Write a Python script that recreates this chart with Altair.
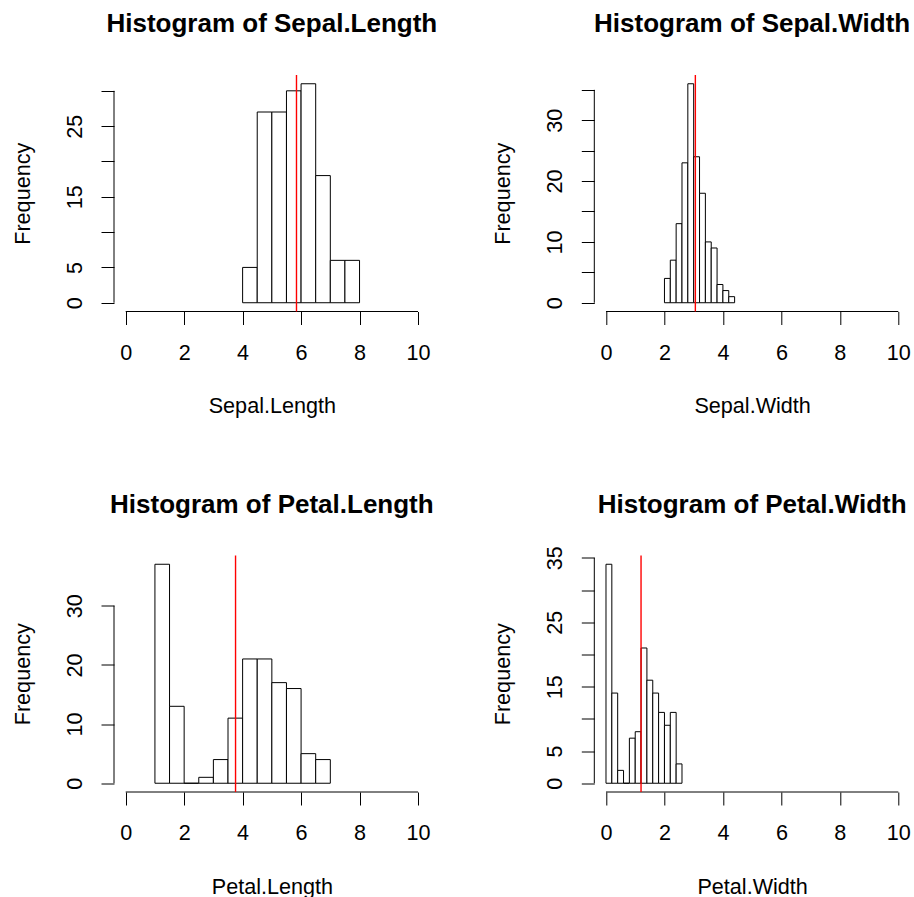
import altair as alt
import pandas as pd

# ---- data (iris histograms, R default breaks) ----
sl_breaks = [4.0, 4.5, 5.0, 5.5, 6.0, 6.5, 7.0, 7.5, 8.0]
sl_counts = [5, 27, 27, 30, 31, 18, 6, 6]
sl_mean = 5.843

sw_breaks = [2.0, 2.2, 2.4, 2.6, 2.8, 3.0, 3.2, 3.4, 3.6, 3.8, 4.0, 4.2, 4.4]
sw_counts = [4, 7, 13, 23, 36, 24, 18, 10, 9, 3, 2, 1]
sw_mean = 3.057

pl_breaks = [1.0, 1.5, 2.0, 2.5, 3.0, 3.5, 4.0, 4.5, 5.0, 5.5, 6.0, 6.5, 7.0]
pl_counts = [37, 13, 0, 1, 4, 11, 21, 21, 17, 16, 5, 4]
pl_mean = 3.758

pw_breaks = [0.0, 0.2, 0.4, 0.6, 0.8, 1.0, 1.2, 1.4, 1.6, 1.8, 2.0, 2.2, 2.4, 2.6]
pw_counts = [34, 14, 2, 0, 7, 8, 21, 16, 14, 11, 9, 11, 3]
pw_mean = 1.199

x_ticks = [0, 2, 4, 6, 8, 10]
sl_yticks = [0, 5, 10, 15, 20, 25, 30]
sl_ylabels = [0, 5, 15, 25]
sw_yticks = [0, 5, 10, 15, 20, 25, 30, 35]
sw_ylabels = [0, 10, 20, 30]
pl_yticks = [0, 10, 20, 30]
pl_ylabels = [0, 10, 20, 30]
pw_yticks = [0, 5, 10, 15, 20, 25, 30, 35]
pw_ylabels = [0, 5, 15, 25, 35]

FONT = "Liberation Sans"
W = 315.7
H = 236.5


def panel(name, breaks, counts, mean, yticks, ylabels, title_offset=37):
    df = pd.DataFrame({"lo": breaks[:-1], "hi": breaks[1:], "count": counts})
    ymax = max(counts)
    xscale = alt.Scale(domain=[-0.4, 10.4], nice=False, zero=False)
    yscale = alt.Scale(domain=[-0.04 * ymax, 1.04 * ymax], nice=False, zero=False)
    label_test = " || ".join(f"datum.value == {v}" for v in ylabels)
    xaxis = alt.Axis(
        values=x_ticks, tickCount=len(x_ticks), domain=False, grid=False,
        tickSize=13, tickWidth=1,
        tickColor="black", labelFont=FONT, labelFontSize=21.6, labelColor="black",
        labelBaseline="alphabetic", labelPadding=34.5, labelFlush=False,
        labelOverlap=False, titleFont=FONT, titleFontSize=21.6,
        titleFontWeight="normal", titleColor="black", titleBaseline="alphabetic",
        titleX=W / 2, titleY=101.3, titleAlign="center",
    )
    yaxis = alt.Axis(
        values=yticks, tickCount=len(yticks), domain=False, grid=False,
        tickSize=13, tickWidth=1,
        tickColor="black", labelFont=FONT, labelFontSize=21.6, labelColor="black",
        labelAngle=270, labelAlign="center", labelBaseline="alphabetic",
        labelPadding=20, labelFlush=False, labelOverlap=False,
        labelExpr=f"({label_test}) ? datum.label : ''",
        titleFont=FONT, titleFontSize=21.6, titleFontWeight="normal",
        titleColor="black", titleAngle=270, titleBaseline="alphabetic",
        titleAlign="center", titleX=-84.7, titleY=H / 2,
    )
    bars = alt.Chart(df).mark_rect(fill="white", stroke="black", strokeWidth=1).encode(
        x=alt.X("lo:Q", scale=xscale, axis=xaxis, title=name),
        x2="hi:Q",
        y=alt.Y("count:Q", scale=yscale, axis=yaxis, title="Frequency"),
        y2=alt.datum(0),
    )
    xline = alt.Chart(pd.DataFrame({"a": [x_ticks[0]], "b": [x_ticks[-1]]})).mark_rule(
        color="black", strokeWidth=1
    ).encode(x=alt.X("a:Q", title=name), x2="b:Q", y=alt.value(H))
    yline = alt.Chart(pd.DataFrame({"a": [yticks[0]], "b": [yticks[-1]]})).mark_rule(
        color="black", strokeWidth=1
    ).encode(y=alt.Y("a:Q", title="Frequency"), y2="b:Q", x=alt.value(0))
    mline = alt.Chart(pd.DataFrame({"m": [mean]})).mark_rule(
        color="#FF0000", strokeWidth=1.4
    ).encode(x=alt.X("m:Q", title=name), y=alt.value(0), y2=alt.value(H))
    return alt.layer(bars, xline, yline, mline).properties(
        width=W, height=H,
        title=alt.TitleParams(
            text=f"Histogram of {name}", font=FONT, fontSize=26, fontWeight="bold",
            color="black", anchor="middle", frame="group", offset=title_offset,
        ),
    )


p1 = panel("Sepal.Length", sl_breaks, sl_counts, sl_mean, sl_yticks, sl_ylabels)
p2 = panel("Sepal.Width", sw_breaks, sw_counts, sw_mean, sw_yticks, sw_ylabels)
p3 = panel("Petal.Length", pl_breaks, pl_counts, pl_mean, pl_yticks, pl_ylabels)
p4 = panel("Petal.Width", pw_breaks, pw_counts, pw_mean, pw_yticks, pw_ylabels,
           title_offset=27.5)

chart = alt.concat(p1, p2, p3, p4, columns=2, spacing={"row": 243.5, "column": 164.3},
                   bounds="flush").properties(
    padding={"left": 12, "top": 11, "right": 0, "bottom": 0},
    background="white",
).configure_view(stroke=None).configure_axis(labelOverlap=False, labelBound=False)

chart.save("out.html", embed_options={"renderer": "svg", "actions": False})
